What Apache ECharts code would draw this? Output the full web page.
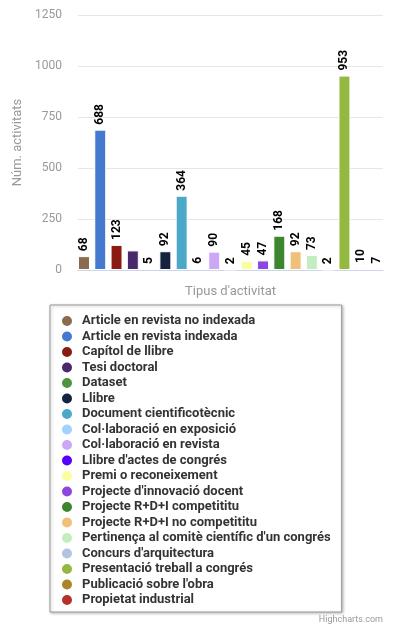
<!DOCTYPE html>
<html>
<head>
<meta charset="utf-8">
<script src="https://cdn.jsdelivr.net/npm/echarts@6/dist/echarts.min.js"></script>
<style>
  html, body { margin: 0; padding: 0; background: #fff; }
  #chart { width: 400px; height: 636px; }
</style>
</head>
<body>
<div id="chart"></div>
<script>
// dades
var categories = ["Tipus d'activitat"];
var seriesNames = [
    'Article en revista no indexada',
    'Article en revista indexada',
    'Capítol de llibre',
    'Tesi doctoral',
    'Dataset',
    'Llibre',
    'Document cientificotècnic',
    'Col·laboració en exposició',
    'Col·laboració en revista',
    "Llibre d'actes de congrés",
    'Premi o reconeixement',
    "Projecte d'innovació docent",
    'Projecte R+D+I competititu',
    'Projecte R+D+I no competititu',
    "Pertinença al comitè científic d'un congrés",
    "Concurs d'arquitectura",
    'Presentació treball a congrés',
    "Publicació sobre l'obra",
    'Propietat industrial'
];
var seriesValues = [68, 688, 123, 96, 5, 92, 364, 6, 90, 2, 45, 47, 168, 92, 73, 2, 953, 10, 7];
var seriesColors = [
    '#8b6a4f', '#4479cf', '#8b1a12', '#48296c', '#4f9440', '#15233f', '#4ba8c9',
    '#9fd3fc', '#cba8f6', '#5500ff', '#fbfd9f', '#8c47df', '#3e852f', '#eec07a',
    '#c2eebf', '#b3c4de', '#94b940', '#ad8529', '#b5312c'
];
var hiddenLabels = ['Tesi doctoral'];
var yTicks = { min: 0, max: 1250, interval: 250 };

var chart = echarts.init(document.getElementById('chart'));

var series = seriesNames.map(function(name, i) {
    return {
        name: name,
        type: 'bar',
        data: [seriesValues[i]],
        barGap: '36%',
        barCategoryGap: 0,
        itemStyle: { color: seriesColors[i], borderColor: '#fff', borderWidth: 1 },
        label: {
            show: hiddenLabels.indexOf(name) < 0,
            position: 'top',
            rotate: 90,
            align: 'left',
            verticalAlign: 'middle',
            distance: 5,
            fontFamily: 'Roboto',
            fontSize: 12,
            fontWeight: 'bold',
            color: '#000'
        }
    };
});

chart.setOption({
    animation: false,
    color: seriesColors,
    textStyle: { fontFamily: 'Roboto' },
    grid: { left: 78, right: 17, top: 15, bottom: 366 },
    xAxis: {
        type: 'category',
        data: categories,
        name: "Tipus d'activitat",
        nameLocation: 'middle',
        nameGap: 15,
        nameTextStyle: { color: '#999', fontSize: 13, fontFamily: 'Roboto' },
        axisLine: { lineStyle: { color: '#ccd6eb' } },
        axisTick: { show: false },
        axisLabel: { show: false }
    },
    yAxis: {
        type: 'value',
        min: yTicks.min,
        max: yTicks.max,
        interval: yTicks.interval,
        name: 'Núm. activitats',
        nameLocation: 'middle',
        nameGap: 52,
        nameTextStyle: { color: '#999', fontSize: 13, fontFamily: 'Roboto' },
        axisLabel: {
            color: '#999',
            fontSize: 12,
            margin: 16,
            formatter: function(v) { return String(v); }
        },
        splitLine: { lineStyle: { color: '#e6e6e6' } }
    },
    legend: {
        orient: 'vertical',
        left: 50,
        top: 305,
        padding: [9, 11, 5, 10],
        itemWidth: 12,
        itemHeight: 12,
        itemGap: 1.5,
        icon: 'circle',
        borderColor: '#999',
        borderWidth: 1,
        backgroundColor: '#fff',
        shadowColor: 'rgba(0,0,0,0.25)',
        shadowBlur: 3,
        shadowOffsetX: 1,
        shadowOffsetY: 1,
        textStyle: {
            fontFamily: 'Roboto', fontSize: 13, fontWeight: 'bold', color: '#333',
            padding: [0, 0, 0, 4]
        },
        data: seriesNames
    },
    graphic: [{
        type: 'text',
        right: 17,
        top: 615,
        style: { text: 'Highcharts.com', fill: '#999', fontSize: 9, fontFamily: 'Roboto' }
    }],
    series: series
});
</script>
</body>
</html>
